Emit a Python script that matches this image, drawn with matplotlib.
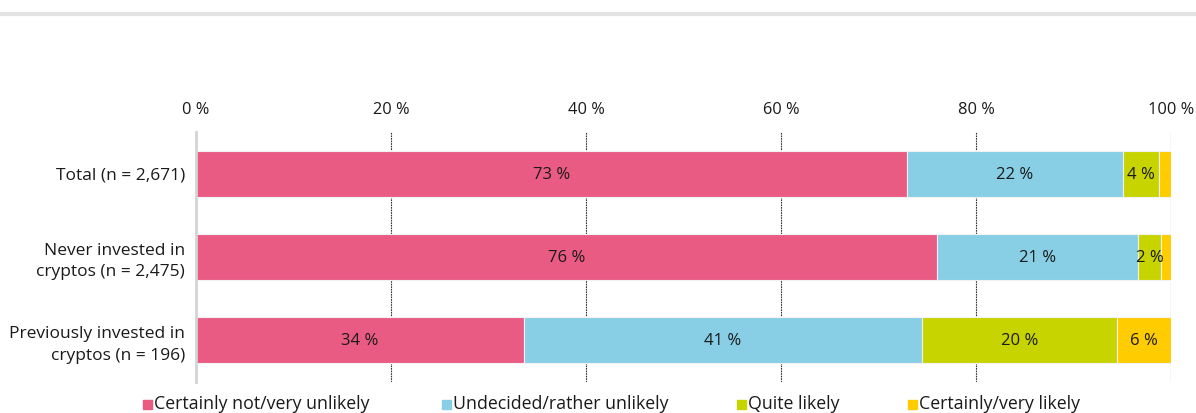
import matplotlib.pyplot as plt
import matplotlib.patches as mpatches
import numpy as np

plt.rcParams['font.family'] = ['Open Sans', 'DejaVu Sans']

groups = ['Total (n = 2,671)', 'Never invested in\ncryptos (n = 2,475)',
          'Previously invested in\ncryptos (n = 196)']
answers = ['Certainly not/very unlikely', 'Undecided/rather unlikely',
           'Quite likely', 'Certainly/very likely']
colors = ['#EA5B84', '#88CEE4', '#C7D400', '#FFCC00']

not_likely = [72.9, 76.0, 33.6]
undecided = [22.2, 20.6, 40.9]
quite_likely = [3.7, 2.4, 20.0]
very_likely = [1.2, 1.0, 5.5]

series = [not_likely, undecided, quite_likely, very_likely]
text_color = '#1a1a1a'

fig = plt.figure(figsize=(11.96, 4.13), dpi=100)
ax = fig.add_axes([0.1639, 0.075, 0.8152, 0.605])

y = np.arange(len(groups))
left = np.zeros(len(groups))
for vals, col in zip(series, colors):
    vals = np.array(vals)
    ax.barh(y, vals, left=left, height=0.55, color=col,
            edgecolor='#f2f2f2', linewidth=0.8, zorder=3)
    for yi, l, v in zip(y, left, vals):
        if v >= 2:
            ax.text(l + v / 2, yi + 0.01, f'{v:.0f} %', ha='center',
                    va='center', fontsize=12, color=text_color, zorder=4)
    left += vals

ax.set_xlim(0, 100)
ax.set_ylim(2.5, -0.5)
ax.set_yticks(y)
ax.set_yticklabels(groups, fontsize=12.5, color=text_color, linespacing=1.45)
ax.set_xticks(np.arange(0, 101, 20))
ax.set_xticklabels([f'{t} %' for t in range(0, 101, 20)], fontsize=11.8,
                   color=text_color)
ax.xaxis.tick_top()
ax.tick_params(axis='x', length=0, pad=10)
ax.tick_params(axis='y', length=0, pad=8)

for s in ['top', 'right', 'bottom']:
    ax.spines[s].set_visible(False)
ax.spines['left'].set_color('#d4d4d4')
ax.spines['left'].set_linewidth(2)
ax.spines['left'].set_zorder(5)

for t in range(20, 101, 20):
    ax.axvline(t, color='#333333', linewidth=0.8, linestyle=(0, (1.5, 0.8)),
               zorder=1)

# grey rule at top
fig.add_artist(plt.Line2D([0.0, 1.0], [0.966, 0.966], color='#e3e3e3',
                          linewidth=3, transform=fig.transFigure))

# legend
leg_x = [143, 442, 737, 908]
for xp, lab, col in zip(leg_x, answers, colors):
    fig.add_artist(mpatches.Rectangle((xp / 1196, 0.0085), 9 / 1196, 9 / 413,
                                      color=col, transform=fig.transFigure))
    fig.text((xp + 11) / 1196, 0.022, lab, fontsize=12.8, color=text_color,
             va='center', ha='left')

fig.savefig('out.png', dpi=100)
